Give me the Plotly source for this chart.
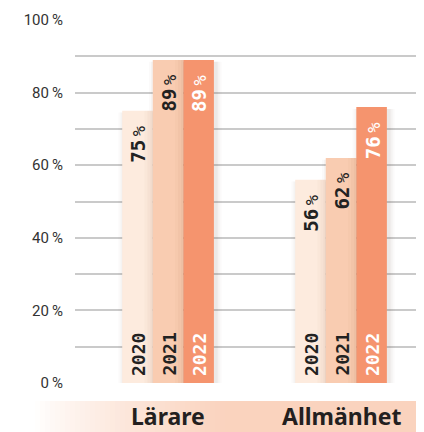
import plotly.graph_objects as go

# ---- data ----
categories = ["Lärare", "Allmänhet"]
years = ["2020", "2021", "2022"]
values_2020 = [75, 56]
values_2021 = [89, 62]
values_2022 = [89, 76]
y_tick_values = [0, 20, 40, 60, 80, 100]
y_tick_labels = ["0\u2009%", "20\u2009%", "40\u2009%", "60\u2009%", "80\u2009%", "100\u2009%"]

series = [values_2020, values_2021, values_2022]
bar_colors = ["#FDEBDE", "#F9CCB1", "#F5946E"]
text_colors = ["#222222", "#222222", "#FFFFFF"]

# the page body adds an 8px offset; figure fills the rest of the window
OFF = 8
W, H = 424 - OFF, 432 - OFF
ML, MR, MT, MB = 75 - OFF, 2, 20 - OFF, 49
plot_w = W - ML - MR
plot_h = H - MT - MB

bargap = 0.47
group_w = 1 - bargap
bar_w = group_w / 3
x_range = [-0.538, 1.468]

fig = go.Figure()
xs = list(range(len(categories)))
for j, (yr, vals) in enumerate(zip(years, series)):
    fig.add_trace(go.Bar(
        x=xs, y=vals, name=yr,
        marker=dict(color=bar_colors[j], line=dict(width=0)),
        hoverinfo="skip",
    ))

shapes = []
annotations = []
mono = "DejaVu Sans Mono"

for j, vals in enumerate(series):
    for i, v in enumerate(vals):
        cx = i + (j - 1) * bar_w
        # soft shadow around each bar
        for k, op in [(6, 0.025), (4, 0.035), (2, 0.05)]:
            shapes.append(dict(
                type="rect", layer="between",
                xref="x", yref="y", xsizemode="pixel", xanchor=cx,
                x0=-15 - k + 2, x1=15 + k + 2, y0=-0.6 - k * 0.28, y1=v - 0.5,
                fillcolor=f"rgba(80,50,30,{op})", line=dict(width=0),
            ))
        # value label
        annotations.append(dict(
            x=cx, y=v, xref="x", yref="y",
            text=f"{v}<span style='font-size:6px'> </span><span style='font-size:17px;font-weight:400'>%</span>",
            textangle=-90, showarrow=False,
            xanchor="center", yanchor="top", yshift=-13, xshift=1,
            font=dict(family=mono, size=19, color=text_colors[j], weight=700),
        ))
        # year label
        annotations.append(dict(
            x=cx, y=0, xref="x", yref="y",
            text=years[j], textangle=-90, showarrow=False,
            xanchor="center", yanchor="bottom", yshift=5, xshift=1,
            font=dict(family=mono, size=18, color=text_colors[j], weight=700),
        ))

# inner shading on right edge of 2020 and 2021 bars
for j in range(2):
    for i, v in enumerate(series[j]):
        cx = i + (j - 1) * bar_w
        for k, op in [(8, 0.025), (5, 0.03), (2, 0.04)]:
            shapes.append(dict(
                type="rect", layer="above",
                xref="x", yref="y", xsizemode="pixel", xanchor=cx,
                x0=15 - k, x1=15.5, y0=0, y1=v,
                fillcolor=f"rgba(120,70,40,{op})", line=dict(width=0),
            ))

# bottom gradient band behind category labels (reference pixel coords)
def px_to_paper_x(px):
    return (px - OFF - ML) / plot_w

def px_to_paper_y(py):
    return (H - MB - (py - OFF)) / plot_h

peach = (250, 211, 190)
start, end, steps = 35, 225, 38
step_w = (end - start) / steps
for s in range(steps):
    t = (s + 0.5) / steps
    t = t ** 0.8
    c = tuple(round(255 + (p - 255) * t) for p in peach)
    shapes.append(dict(
        type="rect", layer="below", xref="paper", yref="paper",
        x0=px_to_paper_x(start + s * step_w), x1=px_to_paper_x(start + (s + 1) * step_w + 0.6),
        y0=px_to_paper_y(401), y1=px_to_paper_y(432),
        fillcolor=f"rgb{c}", line=dict(width=0),
    ))
shapes.append(dict(
    type="rect", layer="below", xref="paper", yref="paper",
    x0=px_to_paper_x(end), x1=px_to_paper_x(424),
    y0=px_to_paper_y(401), y1=px_to_paper_y(432),
    fillcolor=f"rgb{peach}", line=dict(width=0),
))

for i, cat in enumerate(categories):
    annotations.append(dict(
        x=i, y=px_to_paper_y(416), xref="x", yref="paper",
        text=cat, showarrow=False, xanchor="center", yanchor="middle",
        font=dict(family="Noto Sans", size=23, color="#231F20", weight=700),
    ))

fig.update_layout(
    width=W, height=H,
    margin=dict(l=ML, r=MR, t=MT, b=MB, pad=0),
    paper_bgcolor="white", plot_bgcolor="white",
    barmode="group", bargap=bargap, bargroupgap=0,
    showlegend=False,
    shapes=shapes, annotations=annotations,
    xaxis=dict(range=x_range, showticklabels=False, showgrid=False,
               zeroline=False, showline=False, ticks=""),
    yaxis=dict(range=[0, 100], tickvals=y_tick_values, ticktext=y_tick_labels,
               showgrid=True, gridcolor="#CACACA", gridwidth=1.5,
               zeroline=False, showline=False, ticks="",
               ticklabelstandoff=11,
               tickfont=dict(family="Roboto", size=15, color="#333333"),
               minor=dict(dtick=10, showgrid=True, gridcolor="#CACACA", gridwidth=1.5)),
)

fig.write_html("out.html")
